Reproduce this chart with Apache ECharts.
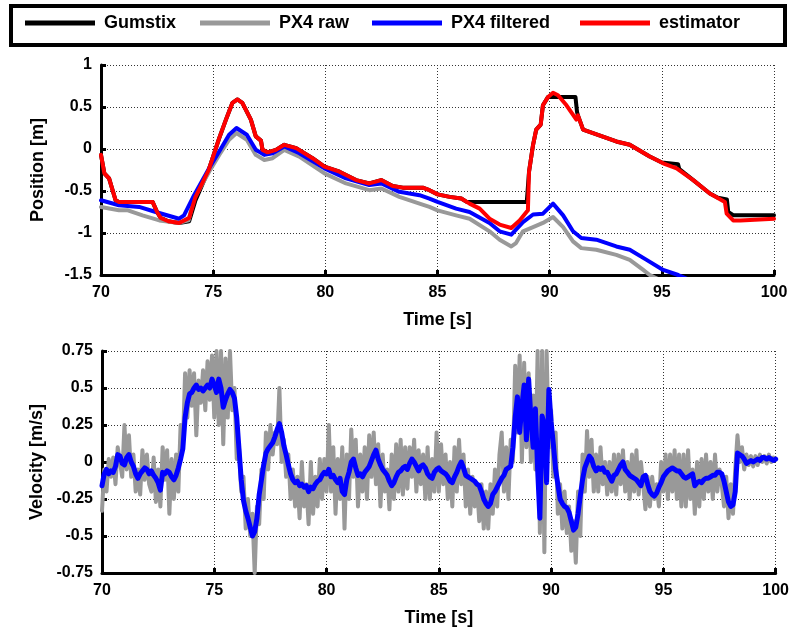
<!DOCTYPE html>
<html>
<head>
<meta charset="utf-8">
<script src="https://cdn.jsdelivr.net/npm/echarts@6/dist/echarts.min.js"></script>
<style>
html,body{margin:0;padding:0;background:#fff;}
#chart{width:792px;height:635px;}
</style>
</head>
<body>
<div id="chart"></div>
<script>
// ---------- DATA ----------
const seriesNames = ['Gumstix', 'PX4 raw', 'PX4 filtered', 'estimator'];
const xTicks = [70, 75, 80, 85, 90, 95, 100];
const posTicks = [-1.5, -1, -0.5, 0, 0.5, 1];
const velTicks = [-0.75, -0.5, -0.25, 0, 0.25, 0.5, 0.75];

// Position [m] vs time [s]
const posEstimator = [[70,-0.07],[70.15,-0.29],[70.36,-0.35],[70.65,-0.61],[70.8,-0.63],[72.3,-0.63],[72.5,-0.75],[72.66,-0.82],[73.0,-0.86],[73.48,-0.88],[73.93,-0.82],[74.2,-0.58],[74.8,-0.25],[75.27,0.13],[75.57,0.35],[75.86,0.55],[76.08,0.59],[76.3,0.55],[76.68,0.35],[76.9,0.15],[77.13,0.10],[77.2,-0.01],[77.43,-0.04],[77.8,-0.01],[78.17,0.05],[78.7,0.01],[79.43,-0.11],[79.96,-0.21],[80.63,-0.27],[81.37,-0.37],[81.96,-0.41],[82.49,-0.37],[83.0,-0.44],[83.45,-0.46],[84.34,-0.46],[84.64,-0.49],[85.01,-0.54],[85.54,-0.57],[86.06,-0.59],[86.43,-0.65],[86.88,-0.71],[87.32,-0.83],[87.77,-0.90],[88.29,-0.94],[88.66,-0.85],[89.03,-0.73],[89.08,-0.27],[89.26,0.05],[89.4,0.23],[89.6,0.29],[89.7,0.52],[89.93,0.62],[90.15,0.67],[90.37,0.64],[90.75,0.52],[91.19,0.35],[91.26,0.40],[91.49,0.23],[91.93,0.19],[92.97,0.09],[93.57,0.05],[94.46,-0.09],[95.06,-0.17],[95.66,-0.23],[96.4,-0.37],[97.14,-0.53],[97.81,-0.63],[97.89,-0.77],[98.18,-0.85],[98.5,-0.85],[100,-0.83]];
const posGumstix = [[70,-0.07],[70.15,-0.29],[70.36,-0.35],[70.65,-0.61],[70.8,-0.63],[72.3,-0.63],[72.5,-0.75],[72.66,-0.82],[73.0,-0.86],[73.48,-0.88],[73.93,-0.86],[74.2,-0.62],[74.8,-0.25],[75.27,0.13],[75.57,0.35],[75.86,0.55],[76.08,0.59],[76.3,0.55],[76.68,0.35],[76.9,0.15],[77.13,0.10],[77.2,-0.01],[77.43,-0.04],[77.8,-0.01],[78.17,0.05],[78.7,0.01],[79.43,-0.11],[79.96,-0.21],[80.63,-0.27],[81.37,-0.37],[81.96,-0.41],[82.49,-0.37],[83.0,-0.44],[83.45,-0.46],[84.34,-0.46],[84.64,-0.49],[85.01,-0.54],[85.54,-0.57],[86.06,-0.59],[86.3,-0.63],[88.98,-0.63],[89.08,-0.27],[89.26,0.05],[89.4,0.23],[89.6,0.29],[89.7,0.52],[89.93,0.62],[91.15,0.62],[91.22,0.44],[91.26,0.40],[91.49,0.23],[91.93,0.19],[92.97,0.09],[93.57,0.05],[94.46,-0.09],[95.0,-0.16],[95.72,-0.18],[95.78,-0.24],[96.4,-0.37],[97.14,-0.53],[97.5,-0.58],[97.9,-0.60],[97.96,-0.75],[98.2,-0.79],[100,-0.79]];
const posRaw = [[70,-0.69],[70.8,-0.73],[71.2,-0.73],[71.85,-0.79],[72.6,-0.85],[73.48,-0.88],[73.9,-0.85],[74.15,-0.59],[74.82,-0.27],[75.27,-0.07],[75.71,0.11],[76.04,0.19],[76.5,0.11],[76.9,-0.07],[77.28,-0.13],[77.65,-0.11],[78.17,-0.01],[78.84,-0.09],[79.96,-0.29],[80.92,-0.41],[81.96,-0.49],[82.5,-0.47],[83.3,-0.57],[84.2,-0.65],[84.64,-0.69],[85.0,-0.73],[85.83,-0.79],[86.43,-0.83],[87.32,-0.98],[87.77,-1.08],[88.29,-1.16],[88.5,-1.12],[88.81,-0.98],[89.26,-0.93],[89.7,-0.88],[90.15,-0.81],[90.6,-0.93],[91.04,-1.10],[91.41,-1.18],[92.08,-1.20],[92.97,-1.26],[93.57,-1.32],[94.17,-1.44],[94.46,-1.50],[96,-1.70],[100,-2.0]];
const posFiltered = [[70,-0.61],[70.8,-0.67],[71.7,-0.69],[72.44,-0.75],[73.48,-0.83],[73.7,-0.79],[74.15,-0.55],[74.82,-0.23],[75.27,-0.03],[75.71,0.17],[76.04,0.25],[76.5,0.17],[76.9,-0.01],[77.28,-0.07],[77.65,-0.05],[78.17,0.03],[78.84,-0.05],[79.96,-0.23],[80.92,-0.35],[81.96,-0.43],[82.5,-0.41],[83.3,-0.51],[84.2,-0.55],[84.64,-0.59],[85.0,-0.63],[85.83,-0.71],[86.43,-0.75],[87.32,-0.88],[87.77,-0.98],[88.29,-1.02],[88.81,-0.87],[89.26,-0.78],[89.7,-0.77],[90.15,-0.65],[90.6,-0.79],[91.04,-0.98],[91.41,-1.06],[92.08,-1.08],[92.97,-1.16],[93.57,-1.20],[94.32,-1.32],[95.06,-1.44],[95.73,-1.50],[97,-1.65],[100,-1.95]];

// Velocity [m/s], sampled every 0.1 s from 70 s to 100 s
const velStart = 70, velStep = 0.1;
const velRaw = [
-0.33,-0.05,-0.2,0.02,-0.1,0.03,-0.15,0.1,0.0,-0.1,
0.25,-0.05,0.18,-0.1,0.05,-0.2,-0.05,-0.22,0.08,-0.12,
0.05,-0.15,-0.2,0.03,-0.27,-0.05,-0.3,0.1,-0.12,0.08,
-0.35,0.02,-0.25,0.05,-0.2,0.25,0.1,0.6,0.3,0.62,
0.38,0.6,0.18,0.55,0.4,0.62,0.35,0.68,0.42,0.72,
0.3,0.75,0.25,0.75,0.12,0.7,0.3,0.75,0.35,0.5,
0.02,0.1,-0.2,-0.1,-0.45,-0.25,-0.5,-0.35,-0.75,-0.3,
-0.42,-0.05,-0.25,0.2,-0.05,0.25,0.05,0.2,0.12,0.5,
0.0,0.15,-0.1,0.05,-0.25,-0.05,-0.3,-0.1,-0.38,0.0,
-0.3,-0.15,-0.42,0.0,-0.35,-0.1,-0.3,0.02,-0.25,0.02,
-0.2,0.25,-0.2,0.1,-0.35,0.02,-0.25,0.1,-0.45,0.05,
-0.25,0.22,-0.1,0.15,-0.3,0.05,-0.2,0.1,-0.25,0.18,
-0.1,0.2,-0.15,0.12,-0.3,0.05,-0.2,-0.05,-0.32,0.05,
-0.25,0.12,-0.2,0.15,-0.22,0.1,-0.18,0.1,-0.1,0.15,
-0.2,0.08,-0.15,0.05,-0.25,0.1,-0.25,0.02,-0.2,0.2,
-0.2,0.12,-0.15,0.05,-0.25,0.0,-0.3,0.1,-0.2,0.15,
-0.15,0.05,-0.3,-0.05,-0.35,-0.1,-0.3,-0.15,-0.4,-0.15,
-0.45,-0.2,-0.45,-0.15,-0.35,-0.05,-0.3,0.05,0.2,-0.2,
0.1,-0.25,0.15,0.0,0.65,0.2,0.72,0.0,0.67,0.1,
0.6,0.0,0.45,-0.05,0.75,-0.48,0.75,-0.61,0.75,0.1,
0.35,-0.1,0.2,-0.35,-0.15,-0.45,-0.2,-0.48,-0.3,-0.6,
-0.4,-0.68,-0.2,-0.5,0.05,-0.2,0.21,-0.1,0.15,-0.2,
0.05,-0.2,0.1,-0.15,0.0,-0.22,0.0,-0.2,0.05,-0.22,
0.05,-0.15,0.08,-0.2,0.0,-0.25,0.05,-0.2,0.08,-0.22,
0.0,-0.15,-0.32,-0.1,-0.3,-0.1,-0.25,-0.15,-0.3,0.0,
-0.2,0.05,-0.25,0.05,-0.2,0.08,-0.25,0.05,-0.3,0.05,
-0.3,0.08,-0.25,-0.05,-0.35,0.0,-0.3,0.02,-0.25,0.05,
-0.2,0.0,-0.25,0.05,-0.2,-0.05,-0.15,-0.3,-0.1,-0.38,
-0.15,-0.35,-0.05,0.18,0.0,0.1,-0.05,0.05,-0.02,0.04,
-0.03,0.04,-0.02,0.05,0.0,0.04,-0.01,0.05,0.0,0.03,
0.02];
const velFiltered = [
-0.16,-0.08,-0.05,-0.08,-0.06,-0.07,-0.03,0.05,0.04,-0.01,
-0.02,0.03,0.05,0.0,-0.03,-0.08,-0.11,-0.08,-0.06,-0.04,
-0.05,-0.08,-0.06,-0.09,-0.11,-0.14,-0.19,-0.07,-0.08,-0.06,
-0.07,-0.1,-0.12,-0.09,-0.04,0.02,0.09,0.3,0.4,0.46,
0.47,0.5,0.52,0.49,0.5,0.48,0.5,0.52,0.5,0.56,
0.52,0.47,0.56,0.5,0.37,0.42,0.46,0.49,0.47,0.43,
0.3,0.09,-0.12,-0.26,-0.33,-0.38,-0.44,-0.5,-0.47,-0.38,
-0.22,-0.12,-0.02,0.06,0.09,0.11,0.13,0.17,0.22,0.26,
0.2,0.11,0.05,-0.02,-0.08,-0.12,-0.14,-0.13,-0.16,-0.15,
-0.17,-0.16,-0.2,-0.17,-0.18,-0.15,-0.13,-0.12,-0.09,-0.07,
-0.08,-0.05,-0.1,-0.09,-0.12,-0.14,-0.11,-0.2,-0.22,-0.12,
-0.07,0.0,0.02,-0.04,-0.09,-0.08,-0.1,-0.07,-0.05,-0.03,
0.01,0.05,0.08,0.02,-0.02,-0.05,-0.07,-0.09,-0.13,-0.16,
-0.14,-0.1,-0.07,-0.06,-0.04,-0.03,-0.05,-0.01,0.02,0.0,
-0.03,-0.06,-0.03,-0.02,-0.04,-0.08,-0.1,-0.11,-0.07,-0.05,
-0.04,-0.06,-0.07,-0.08,-0.1,-0.13,-0.14,-0.1,-0.07,-0.03,
0.0,-0.04,-0.09,-0.1,-0.11,-0.12,-0.13,-0.15,-0.16,-0.2,
-0.25,-0.28,-0.3,-0.28,-0.22,-0.2,-0.17,-0.14,-0.11,-0.09,
-0.05,-0.04,-0.03,0.1,0.3,0.44,0.2,0.38,0.52,0.15,
0.56,0.3,0.1,0.36,-0.05,-0.38,0.31,0.25,-0.14,0.49,
0.27,0.12,-0.05,-0.15,-0.25,-0.28,-0.3,-0.31,-0.34,-0.4,
-0.46,-0.44,-0.35,-0.23,-0.12,-0.04,0.0,0.04,0.02,-0.03,
-0.06,-0.04,-0.05,-0.04,-0.07,-0.07,-0.1,-0.13,-0.09,-0.08,
-0.05,-0.02,0.0,-0.05,-0.07,-0.09,-0.1,-0.11,-0.12,-0.14,
-0.16,-0.1,-0.09,-0.15,-0.2,-0.22,-0.23,-0.21,-0.17,-0.14,
-0.1,-0.08,-0.06,-0.05,-0.04,-0.05,-0.06,-0.06,-0.08,-0.1,
-0.11,-0.1,-0.09,-0.08,-0.16,-0.14,-0.13,-0.14,-0.12,-0.11,
-0.11,-0.1,-0.09,-0.09,-0.07,-0.07,-0.08,-0.13,-0.2,-0.27,
-0.3,-0.29,-0.2,0.06,0.05,0.04,0.02,-0.01,0.0,0.01,
0.0,0.01,0.02,0.01,0.03,0.03,0.02,0.03,0.02,0.01,
0.02];

// ---------- CHART ----------
const colors = {gum:'#000000', raw:'#999999', filt:'#0000ff', est:'#ff0000'};
const FONT = "'Liberation Sans', Arial, Helvetica, sans-serif";
const withTime = vals => vals.map((v, i) => [+(velStart + i * velStep).toFixed(2), v]);

function xAxisCfg(gridIndex) {
  return {
    type: 'value', gridIndex, min: xTicks[0], max: xTicks[xTicks.length-1], interval: 5,
    name: 'Time [s]', nameLocation: 'middle', nameGap: 36,
    nameTextStyle: {fontFamily: FONT, fontWeight: 'bold', fontSize: 18, color: '#000'},
    axisLine: {show: true, onZero: false, lineStyle: {color: '#000', width: 3}},
    axisTick: {show: true, inside: true, length: 5, lineStyle: {color: '#000', width: 3}},
    axisLabel: {fontFamily: FONT, fontWeight: 'bold', fontSize: 16, color: '#000', margin: 10},
    splitLine: {show: true, lineStyle: {color: '#333', width: 1, type: [1, 2]}}
  };
}
function yAxisCfg(gridIndex, name, ticks, interval) {
  return {
    type: 'value', gridIndex, min: ticks[0], max: ticks[ticks.length-1], interval,
    name, nameLocation: 'middle', nameGap: 54,
    nameTextStyle: {fontFamily: FONT, fontWeight: 'bold', fontSize: 18, color: '#000'},
    axisLine: {show: true, onZero: false, lineStyle: {color: '#000', width: 3}},
    axisTick: {show: true, inside: true, length: 5, lineStyle: {color: '#000', width: 3}},
    axisLabel: {fontFamily: FONT, fontWeight: 'bold', fontSize: 16, color: '#000', margin: 9},
    splitLine: {show: true, lineStyle: {color: '#333', width: 1, type: [1, 2]}}
  };
}
function lineSeries(name, data, color, width, xi, yi, z) {
  return {
    type: 'line', name, data, xAxisIndex: xi, yAxisIndex: yi, z,
    showSymbol: false, symbol: 'none', clip: true,
    lineStyle: {color, width, join: 'round', cap: 'round'},
    itemStyle: {color}, animation: false
  };
}
function legendItem(name, left) {
  return {
    data: [name], left, top: 14, padding: 0, icon: 'rect', itemWidth: 70, itemHeight: 5,
    selectedMode: false,
    textStyle: {fontFamily: FONT, fontWeight: 'bold', fontSize: 18, color: '#000', padding: [0,0,0,4]}
  };
}

const chart = echarts.init(document.getElementById('chart'), null, {renderer: 'canvas'});
chart.setOption({
  backgroundColor: '#fff',
  animation: false,
  graphic: [{
    type: 'rect', left: 9, top: 4, z: -1,
    shape: {width: 774, height: 39},
    style: {fill: '#fff', stroke: '#000', lineWidth: 4}
  }],
  legend: [
    legendItem(seriesNames[0], 25),
    legendItem(seriesNames[1], 200),
    legendItem(seriesNames[2], 372),
    legendItem(seriesNames[3], 580)
  ],
  grid: [
    {left: 101, right: 18, top: 65, bottom: 360},
    {left: 102, right: 15, top: 351, bottom: 62}
  ],
  xAxis: [xAxisCfg(0), xAxisCfg(1)],
  yAxis: [yAxisCfg(0, 'Position [m]', posTicks, 0.5), yAxisCfg(1, 'Velocity [m/s]', velTicks, 0.25)],
  series: [
    lineSeries(seriesNames[0], posGumstix, colors.gum, 4, 0, 0, 2),
    lineSeries(seriesNames[1], posRaw, colors.raw, 4, 0, 0, 3),
    lineSeries(seriesNames[2], posFiltered, colors.filt, 4, 0, 0, 4),
    lineSeries(seriesNames[3], posEstimator, colors.est, 4, 0, 0, 5),
    lineSeries(seriesNames[1], withTime(velRaw), colors.raw, 4, 1, 1, 3),
    lineSeries(seriesNames[2], withTime(velFiltered), colors.filt, 5, 1, 1, 4)
  ]
});
</script>
</body>
</html>
